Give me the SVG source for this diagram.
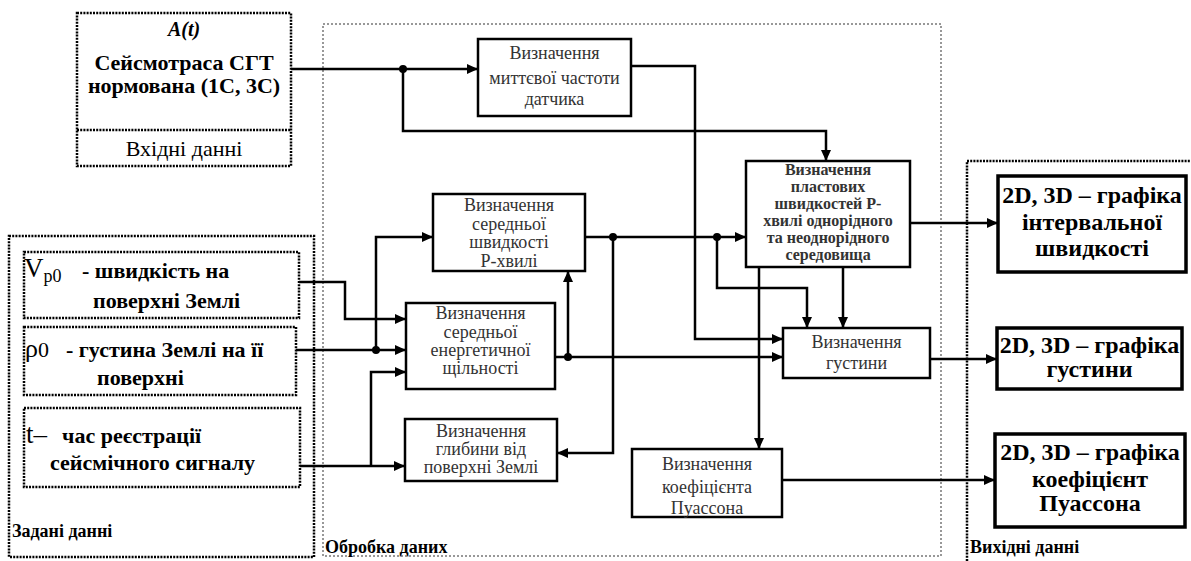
<svg xmlns="http://www.w3.org/2000/svg" width="1191" height="561" viewBox="0 0 1191 561">
<defs>
<marker id="arr" markerUnits="userSpaceOnUse" markerWidth="12" markerHeight="10" refX="11" refY="5" orient="auto">
<path d="M0,0 L11,5 L0,10 z" fill="#000"/>
</marker>
<style>
text{font-family:"Liberation Serif",LiberationSerif,"Times New Roman",Times,Tinos,"Noto Serif","DejaVu Serif",FreeSerif,serif}
.dot{fill:none;stroke:#000;stroke-width:2.5;stroke-dasharray:2 1.2}
.gdot{fill:none;stroke:#777;stroke-width:1.5;stroke-dasharray:2 2}
.pbox{fill:#fff;stroke:#000;stroke-width:2.5}
.obox{fill:#fff;stroke:#000;stroke-width:3.5}
.ptxt{font-size:18px;fill:#333;text-anchor:middle}
.btxt{font-size:16px;font-weight:bold;fill:#333;text-anchor:middle}
.otxt{font-size:24px;font-weight:bold;fill:#000;text-anchor:middle}
.ltxt{font-size:22px;font-weight:bold;fill:#000}
.lbl{font-size:18px;font-weight:bold;fill:#000}
.con{fill:none;stroke:#000;stroke-width:2.5}
.arr{marker-end:url(#arr)}
</style>
</defs>

<g id="areas">
<rect class="gdot" x="323" y="24" width="618" height="532"/>
<path class="dot" d="M967,561 V161 H1191"/>
<rect class="dot" x="9" y="236" width="305" height="321"/>
<text class="lbl" x="12" y="537">Задані данні</text>
<text class="lbl" x="325" y="553">Обробка даних</text>
<text class="lbl" x="970" y="553">Вихідні данні</text>
</g>

<g id="input">
<rect class="dot" x="77" y="13" width="214" height="153"/>
<line class="dot" x1="77" y1="130" x2="291" y2="130"/>
<text x="184" y="36" font-size="20" font-weight="bold" font-style="italic" text-anchor="middle">A(t)</text>
<text class="ltxt" x="184" y="70" text-anchor="middle">Сейсмотраса СГТ</text>
<text class="ltxt" x="184" y="93" text-anchor="middle">нормована (1С, 3С)</text>
<text x="184" y="156" font-size="22" text-anchor="middle">Вхідні данні</text>
</g>

<g id="vp0">
<rect class="dot" x="24" y="252" width="275" height="66"/>
<text x="24" y="277" font-size="27">V<tspan font-size="18" dy="5">p0</tspan></text>
<text class="ltxt" x="82" y="278">- швидкість на</text>
<text class="ltxt" x="93" y="308">поверхні Землі</text>
</g>

<g id="rho0">
<rect class="dot" x="24" y="327" width="272" height="68"/>
<text x="25" y="357" font-size="26">ρ<tspan font-size="22">0</tspan></text>
<text class="ltxt" x="66" y="357">- густина Землі на її</text>
<text class="ltxt" x="97" y="385">поверхні</text>
</g>

<g id="tsig">
<rect class="dot" x="24" y="408" width="276" height="79"/>
<text x="26" y="443" font-size="27">t–</text>
<text class="ltxt" x="62" y="443">час реєстрації</text>
<text class="ltxt" x="50" y="470">сейсмічного сигналу</text>
</g>

<g id="b1">
<rect class="pbox" x="478" y="39" width="153" height="77"/>
<text class="ptxt" x="554.5" y="59">Визначення</text>
<text class="ptxt" x="554.5" y="84">миттєвої частоти</text>
<text class="ptxt" x="554.5" y="105">датчика</text>
</g>

<g id="b2">
<rect class="pbox" x="433" y="194" width="152" height="77"/>
<text class="ptxt" x="509" y="211">Визначення</text>
<text class="ptxt" x="509" y="230">середньої</text>
<text class="ptxt" x="509" y="248">швидкості</text>
<text class="ptxt" x="509" y="267">Р-хвилі</text>
</g>

<g id="b3">
<rect class="pbox" x="406" y="303" width="149" height="86"/>
<text class="ptxt" x="480.5" y="319">Визначення</text>
<text class="ptxt" x="480.5" y="338">середньої</text>
<text class="ptxt" x="480.5" y="356">енергетичної</text>
<text class="ptxt" x="480.5" y="374">щільності</text>
</g>

<g id="b4">
<rect class="pbox" x="405" y="419" width="152" height="62"/>
<text class="ptxt" x="481" y="437">Визначення</text>
<text class="ptxt" x="481" y="455">глибини від</text>
<text class="ptxt" x="481" y="473">поверхні Землі</text>
</g>

<g id="b5">
<rect class="pbox" x="632" y="449" width="150" height="68"/>
<text class="ptxt" x="707" y="470">Визначення</text>
<text class="ptxt" x="707" y="493">коефіцієнта</text>
<text class="ptxt" x="707" y="514">Пуассона</text>
</g>

<g id="b6">
<rect class="pbox" x="746" y="161" width="164" height="106"/>
<text class="btxt" x="828" y="175">Визначення</text>
<text class="btxt" x="828" y="192">пластових</text>
<text class="btxt" x="828" y="209">швидкостей Р-</text>
<text class="btxt" x="828" y="226">хвилі однорідного</text>
<text class="btxt" x="828" y="243">та неоднорідного</text>
<text class="btxt" x="828" y="260">середовища</text>
</g>

<g id="b7">
<rect class="pbox" x="783" y="328" width="147" height="50"/>
<text class="ptxt" x="856.5" y="348">Визначення</text>
<text class="ptxt" x="856.5" y="369">густини</text>
</g>

<g id="o1">
<rect class="obox" x="998" y="176" width="188" height="96"/>
<text class="otxt" x="1092" y="203">2D, 3D – графіка</text>
<text class="otxt" x="1092" y="230">інтервальної</text>
<text class="otxt" x="1092" y="256">швидкості</text>
</g>

<g id="o2">
<rect class="obox" x="997" y="328" width="185" height="61"/>
<text class="otxt" x="1089.5" y="353">2D, 3D – графіка</text>
<text class="otxt" x="1089.5" y="377">густини</text>
</g>

<g id="o3">
<rect class="obox" x="995" y="434" width="190" height="93"/>
<text class="otxt" x="1090" y="460">2D, 3D – графіка</text>
<text class="otxt" x="1090" y="487">коефіцієнт</text>
<text class="otxt" x="1090" y="511">Пуассона</text>
</g>

<g id="connectors">
<path class="con arr" d="M291,69 H478"/>
<path class="con arr" d="M403,69 V131 H826 V161"/>
<path class="con arr" d="M631,66 H695 V339 H783"/>
<path class="con arr" d="M585,237 H746"/>
<path class="con arr" d="M613,237 V453 H557"/>
<path class="con arr" d="M717,237 V288 H807 V328"/>
<path class="con arr" d="M843,267 V328"/>
<path class="con arr" d="M759,267 V449"/>
<path class="con arr" d="M555,357 H783"/>
<path class="con arr" d="M568,357 V271"/>
<path class="con arr" d="M910,223 H998"/>
<path class="con arr" d="M930,359 H997"/>
<path class="con arr" d="M782,480 H995"/>
<path class="con arr" d="M299,282 H345 V319 H406"/>
<path class="con arr" d="M296,350 H406"/>
<path class="con arr" d="M376,350 V237 H433"/>
<path class="con arr" d="M300,466 H405"/>
<path class="con arr" d="M371,466 V372 H406"/>
<circle cx="403" cy="69" r="4"/>
<circle cx="613" cy="237" r="4"/>
<circle cx="717" cy="237" r="4"/>
<circle cx="568" cy="357" r="4"/>
<circle cx="376" cy="350" r="4"/>
</g>
</svg>
